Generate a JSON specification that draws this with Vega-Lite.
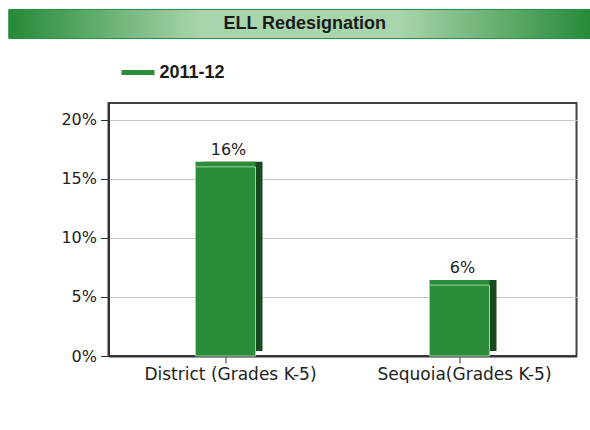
{
  "$schema": "https://vega.github.io/schema/vega-lite/v6.json",
  "padding": {"left": 7, "top": 8, "right": 0, "bottom": 0},
  "background": "white",
  "config": {
    "font": "DejaVu Sans",
    "view": {"stroke": null}
  },
  "columns": 1,
  "center": true,
  "spacing": 16,
  "resolve": {"scale": {"color": "independent"}, "legend": {"color": "independent"}},
  "concat": [
    {
      "width": 669,
      "height": 29,
      "view": {
        "fill": {
          "gradient": "linear",
          "x1": 0, "y1": 0, "x2": 1, "y2": 0,
          "stops": [
            {"offset": 0, "color": "#268a38"},
            {"offset": 0.287, "color": "#a9d5ac"},
            {"offset": 0.584, "color": "#a9d5ac"},
            {"offset": 0.871, "color": "#268a38"},
            {"offset": 1, "color": "#268a38"}
          ]
        },
        "stroke": "#2f8f40",
        "strokeWidth": 1
      },
      "data": {"values": [{"t": "ELL Redesignation"}]},
      "mark": {
        "type": "text",
        "font": "Liberation Sans",
        "fontWeight": "bold",
        "fontSize": 18,
        "color": "#1a1a1a",
        "dx": -38,
        "baseline": "middle"
      },
      "encoding": {"text": {"field": "t", "type": "nominal"}}
    },
    {
      "width": 468,
      "height": 253,
      "view": {"stroke": "#404040", "strokeWidth": 2},
      "data": {
        "values": [
          {"school": "District (Grades K-5)", "rate": 0.16, "year": "2011-12"},
          {"school": "Sequoia(Grades K-5)", "rate": 0.06, "year": "2011-12"}
        ]
      },
      "encoding": {
        "x": {
          "field": "school",
          "type": "nominal",
          "sort": null,
          "scale": {"paddingInner": 0, "paddingOuter": 0},
          "axis": {
            "title": null,
            "labelAngle": 0,
            "labelFont": "DejaVu Sans",
            "labelFontSize": 17,
            "labelColor": "#222222",
            "labelPadding": 3,
            "labelOffset": 5,
            "tickSize": 7,
            "tickColor": "#333333",
            "domainColor": "#333333",
            "domainWidth": 2,
            "grid": false
          }
        },
        "y": {
          "field": "rate",
          "type": "quantitative",
          "scale": {"domain": [0, 0.214], "nice": false, "zero": true},
          "axis": {
            "title": null,
            "values": [0, 0.05, 0.1, 0.15, 0.2],
            "format": ".0%",
            "labelFont": "DejaVu Sans",
            "labelFontSize": 16,
            "labelColor": "#222222",
            "labelPadding": 4,
            "tickSize": 8,
            "tickColor": "#333333",
            "domainColor": "#333333",
            "domainWidth": 2,
            "grid": true,
            "gridColor": "#c8c8c8",
            "minExtent": 85
          }
        }
      },
      "layer": [
        {
          "mark": {"type": "bar", "width": 60, "color": "#174a1f", "xOffset": 7, "yOffset": -5}
        },
        {
          "mark": {"type": "bar", "width": 60, "color": "#2b8c3a", "yOffset": -5}
        },
        {
          "mark": {"type": "bar", "width": 60, "stroke": "#9fd3a3", "strokeWidth": 1},
          "encoding": {
            "color": {
              "field": "year",
              "type": "nominal",
              "scale": {"range": ["#2b8c3a"]},
              "legend": {
                "title": null,
                "orient": "none",
                "legendX": 13,
                "legendY": -47,
                "symbolType": "M-1,-0.15H1V0.15H-1Z",
                "symbolSize": 1089,
                "symbolStrokeWidth": 0,
                "labelFont": "Liberation Sans",
                "labelFontWeight": "bold",
                "labelFontSize": 18,
                "labelColor": "#1a1a1a",
                "labelOffset": 5
              }
            }
          }
        },
        {
          "mark": {"type": "text", "baseline": "bottom", "dy": -9, "dx": 3, "fontSize": 16, "color": "#222222"},
          "encoding": {"text": {"field": "rate", "type": "quantitative", "format": ".0%"}}
        }
      ]
    }
  ]
}
